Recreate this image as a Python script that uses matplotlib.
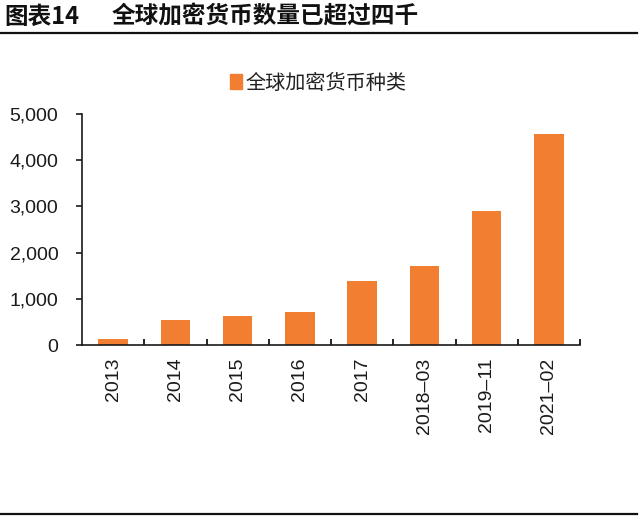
import numpy as np
import matplotlib.pyplot as plt
from matplotlib.lines import Line2D
from matplotlib.patches import Patch

plt.rcParams['font.family'] = ['Liberation Sans', 'Noto Sans CJK SC', 'DejaVu Sans']

# data
periods = ['2013', '2014', '2015', '2016', '2017', '2018–03', '2019–11', '2021–02']
coins = [130, 540, 630, 720, 1380, 1720, 2900, 4560]
series_name = '全球加密货币种类'
title_no = '图表14'
title_txt = '全球加密货币数量已超过四千'

orange = '#F17E31'

fig = plt.figure(figsize=(6.4, 5.19), dpi=100)
ax = fig.add_axes([82/640, 1-345/519, (580-82)/640, (345-114)/519])

x = np.arange(len(periods))
ax.bar(x, coins, width=0.47, color=orange)

ax.set_xlim(-0.5, len(periods) - 0.5)
ax.set_ylim(0, 5000)
ax.set_yticks([0, 1000, 2000, 3000, 4000, 5000])
ax.set_yticklabels(['{:,}'.format(v) for v in [0, 1000, 2000, 3000, 4000, 5000]])
ax.set_xticks(x)
ax.set_xticklabels(periods, rotation=90)
ax.set_xticks(np.arange(len(periods)) + 0.5, minor=True)
ax.tick_params(axis='x', which='major', length=0, labelsize=14, pad=9, colors='#1a1a1a')
ax.tick_params(axis='x', which='minor', direction='in', length=4, width=1.2)
ax.tick_params(axis='y', direction='out', length=4, width=1.2, labelsize=14, pad=13, colors='#1a1a1a')
for s in ['top', 'right']:
    ax.spines[s].set_visible(False)
for s in ['left', 'bottom']:
    ax.spines[s].set_linewidth(1.2)
    ax.spines[s].set_color('#1a1a1a')

fig.legend([Patch(color=orange)], [series_name], loc='center',
           bbox_to_anchor=(318/640, 1-83/519), frameon=False,
           handlelength=0.6, handleheight=0.8, handletextpad=0.15,
           prop={'family': ['Noto Sans CJK SC'], 'size': 14.5}, labelcolor='#222222')

# header
fig.text(4/640, 1-17/519, title_no, fontsize=17, fontweight='bold', va='center',
         family=['Noto Sans CJK SC'], color='#111111')
fig.text(112/640, 1-17/519, title_txt, fontsize=17, fontweight='bold', va='center',
         family=['Noto Sans CJK SC'], color='#111111')
fig.add_artist(Line2D([0, 637/640], [1-33/519, 1-33/519], color='#111111', lw=1.6))
fig.add_artist(Line2D([0, 637/640], [1-514/519, 1-514/519], color='#111111', lw=1.6))

fig.savefig('out.png', dpi=100)
